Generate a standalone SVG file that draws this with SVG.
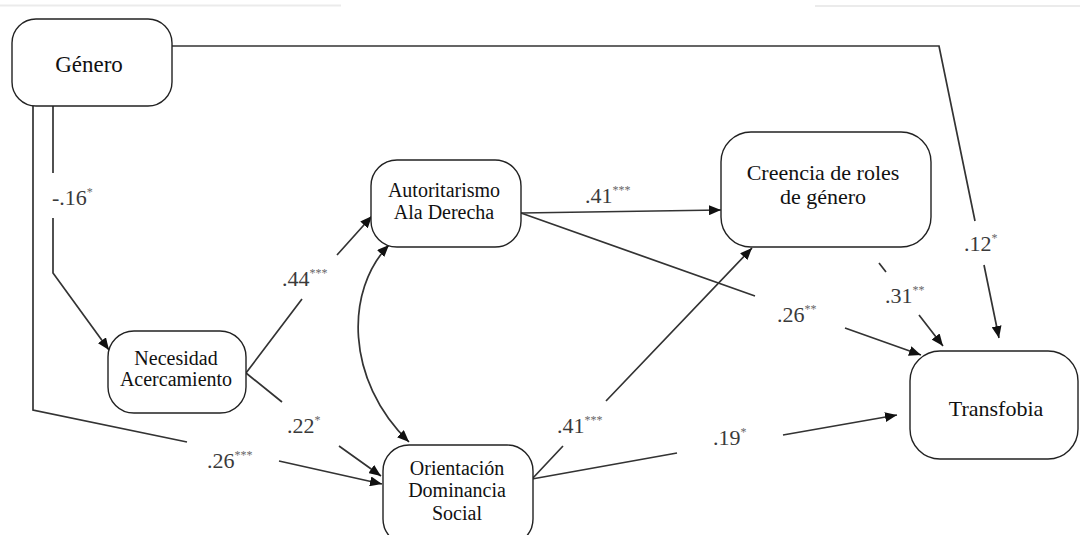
<svg xmlns="http://www.w3.org/2000/svg" width="1080" height="535" viewBox="0 0 1080 535">
<defs>
<style>
.node rect{fill:#fff;stroke:#222;stroke-width:1.4}
.node text{fill:#111;text-anchor:middle}
.conn path{fill:none;stroke:#333;stroke-width:1.7}
.lbl{font-size:22px;fill:#3a3a3a}
.lbl tspan{font-size:12px;fill:#666}
.faint{stroke:#ebebeb;stroke-width:2}
</style>
<marker id="ah" markerUnits="userSpaceOnUse" markerWidth="13" markerHeight="10" refX="12" refY="5" orient="auto-start-reverse">
<path d="M0,0 L12,5 L0,10 z" fill="#111"/>
</marker>
</defs>
<rect width="1080" height="535" fill="#fff"/>
<line class="faint" x1="0" y1="5.5" x2="341" y2="5.5"/>
<line class="faint" x1="815" y1="6" x2="1080" y2="6"/>

<g id="connectors" class="conn">
<path d="M172,46 L939,46 L975,221 M984,265 L999,338" marker-end="url(#ah)"/>
<path d="M53,106 L53,173 M53,218 L53,273 L109,350" marker-end="url(#ah)"/>
<path d="M33,106 L33,410 L187,442 M279,461 L382,484" marker-end="url(#ah)"/>
<path d="M246,373 L302,299 M337,255 L372,216" marker-end="url(#ah)"/>
<path d="M246,373 L282,402 M339,446 L381,476" marker-end="url(#ah)"/>
<path d="M521,213 L721,210" marker-end="url(#ah)"/>
<path d="M521,213 L755,296 M845,328 L921,355" marker-end="url(#ah)"/>
<path d="M532,479 L563,446 M606,401 L752,248" marker-end="url(#ah)"/>
<path d="M532,479 L677,453 M783,435 L897,415" marker-end="url(#ah)"/>
<path d="M879,263 L886,272 M919,315 L943,346" marker-end="url(#ah)"/>
<path d="M389,245 C345,290 345,380 409,442" marker-start="url(#ah)" marker-end="url(#ah)"/>
</g>

<g font-family="Liberation Serif, serif">
<g id="labels">
<text class="lbl" x="52" y="205">-.16<tspan dy="-9">*</tspan></text>
<text class="lbl" x="964" y="251">.12<tspan dy="-9">*</tspan></text>
<text class="lbl" x="282" y="286">.44<tspan dy="-9">***</tspan></text>
<text class="lbl" x="585" y="203">.41<tspan dy="-9">***</tspan></text>
<text class="lbl" x="777" y="322">.26<tspan dy="-9">**</tspan></text>
<text class="lbl" x="885" y="303">.31<tspan dy="-9">**</tspan></text>
<text class="lbl" x="287" y="433">.22<tspan dy="-9">*</tspan></text>
<text class="lbl" x="207" y="468">.26<tspan dy="-9">***</tspan></text>
<text class="lbl" x="557" y="433">.41<tspan dy="-9">***</tspan></text>
<text class="lbl" x="713" y="445">.19<tspan dy="-9">*</tspan></text>
</g>

<g id="genero" class="node">
<rect x="12" y="19" width="160" height="87" rx="24"/>
<text x="89" y="72" font-size="23">Género</text>
</g>
<g id="necesidad" class="node">
<rect x="108" y="331" width="138" height="82" rx="26"/>
<text x="176" y="365" font-size="20">Necesidad</text>
<text x="176" y="386" font-size="20">Acercamiento</text>
</g>
<g id="autoritarismo" class="node">
<rect x="371" y="160" width="150" height="87" rx="26"/>
<text x="444" y="197" font-size="20">Autoritarismo</text>
<text x="444" y="219" font-size="20">Ala Derecha</text>
</g>
<g id="creencia" class="node">
<rect x="721" y="132" width="210" height="115" rx="30"/>
<text x="823" y="180" font-size="22">Creencia de roles</text>
<text x="823" y="204" font-size="22">de género</text>
</g>
<g id="orientacion" class="node">
<rect x="383" y="445" width="150" height="100" rx="26"/>
<text x="457" y="475" font-size="20">Orientación</text>
<text x="457" y="497" font-size="20">Dominancia</text>
<text x="457" y="520" font-size="20">Social</text>
</g>
<g id="transfobia" class="node">
<rect x="910" y="351" width="168" height="108" rx="30"/>
<text x="996" y="416" font-size="22">Transfobia</text>
</g>
</g>
</svg>
